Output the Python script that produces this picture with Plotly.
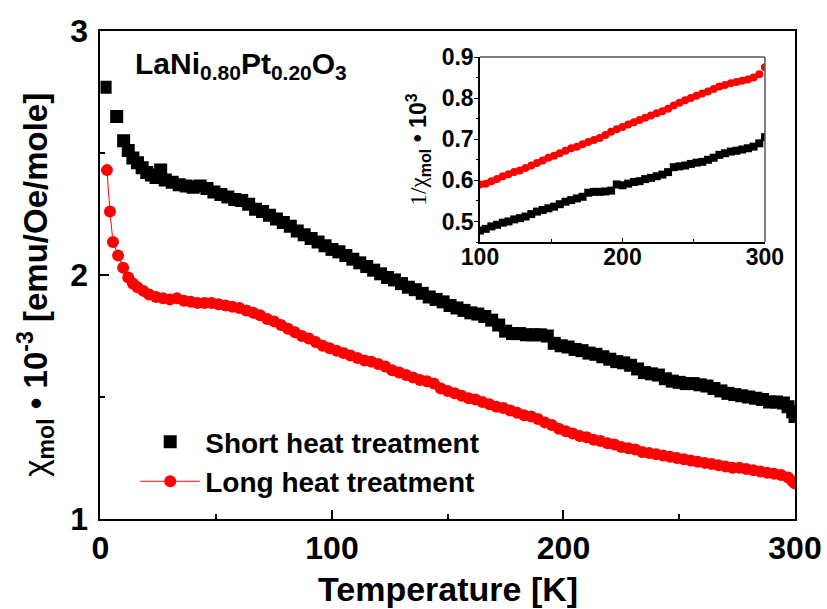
import plotly.graph_objects as go

# ---------------- data ----------------
T_short = [2, 7, 10, 12, 14, 16, 18, 20, 22, 24, 26, 28, 31, 34, 37, 40, 43, 46, 49, 52,
           55, 58, 61, 64, 67, 70, 73, 76, 79, 82, 85, 88, 91, 94, 97, 100, 103, 106, 109, 112,
           115, 118, 121, 124, 127, 130, 133, 136, 139, 142, 145, 148, 151, 154, 157, 160, 163, 166, 169, 172,
           175, 178, 181, 184, 187, 190, 193, 196, 199, 202, 205, 208, 211, 214, 217, 220, 223, 226, 229, 232,
           235, 238, 241, 244, 247, 250, 253, 256, 259, 262, 265, 268, 271, 274, 277, 280, 283, 286, 289, 292,
           295, 297, 299, 300]
chi_short = [2.77, 2.65, 2.55, 2.51, 2.48, 2.46, 2.44, 2.42, 2.41, 2.40, 2.43, 2.39, 2.38, 2.37, 2.365, 2.36, 2.365, 2.355, 2.34, 2.33,
             2.32, 2.31, 2.305, 2.29, 2.27, 2.26, 2.245, 2.23, 2.215, 2.20, 2.18, 2.165, 2.15, 2.135, 2.12, 2.105, 2.095, 2.08, 2.065, 2.05,
             2.035, 2.02, 2.005, 1.99, 1.98, 1.965, 1.95, 1.94, 1.925, 1.91, 1.90, 1.89, 1.875, 1.865, 1.855, 1.845, 1.84, 1.83, 1.815, 1.795,
             1.77, 1.76, 1.76, 1.755, 1.755, 1.755, 1.75, 1.72, 1.71, 1.705, 1.695, 1.69, 1.68, 1.675, 1.665, 1.655, 1.645, 1.64, 1.63, 1.615,
             1.60, 1.595, 1.59, 1.575, 1.565, 1.56, 1.555, 1.555, 1.55, 1.545, 1.535, 1.525, 1.515, 1.51, 1.505, 1.50, 1.495, 1.49, 1.48, 1.48,
             1.475, 1.46, 1.44, 1.42]

T_long = [2.8, 4.1, 5.4, 7.6, 9.8, 12, 14, 16, 18.5, 21, 24, 27, 30, 33, 36, 39, 42, 45, 48, 51,
          54, 57, 60, 63, 66, 69, 72, 75, 78, 81, 84, 87, 90, 93, 96, 99, 102, 105, 108, 111,
          114, 117, 120, 123, 126, 129, 132, 135, 138, 141, 144, 147, 150, 153, 156, 159, 162, 165, 168, 171,
          174, 177, 180, 183, 186, 189, 192, 195, 198, 201, 204, 207, 210, 213, 216, 219, 222, 225, 228, 231,
          234, 237, 240, 243, 246, 249, 252, 255, 258, 261, 264, 267, 270, 273, 276, 279, 282, 285, 288, 291,
          294, 297, 299, 300]
chi_long = [2.43, 2.26, 2.135, 2.08, 2.03, 1.99, 1.965, 1.95, 1.935, 1.92, 1.91, 1.905, 1.90, 1.905, 1.895, 1.89, 1.885, 1.885, 1.885, 1.88,
            1.875, 1.87, 1.865, 1.855, 1.845, 1.835, 1.82, 1.81, 1.795, 1.78, 1.765, 1.75, 1.74, 1.725, 1.71, 1.70, 1.69, 1.68, 1.67, 1.66,
            1.65, 1.645, 1.635, 1.625, 1.61, 1.60, 1.59, 1.58, 1.57, 1.565, 1.555, 1.535, 1.525, 1.515, 1.505, 1.495, 1.49, 1.48, 1.47, 1.46,
            1.455, 1.445, 1.435, 1.425, 1.42, 1.41, 1.395, 1.385, 1.37, 1.36, 1.35, 1.34, 1.335, 1.325, 1.32, 1.31, 1.305, 1.295, 1.29, 1.285,
            1.275, 1.27, 1.265, 1.26, 1.255, 1.25, 1.245, 1.24, 1.235, 1.23, 1.225, 1.22, 1.215, 1.21, 1.21, 1.205, 1.20, 1.195, 1.19, 1.185,
            1.18, 1.17, 1.155, 1.145]

T_inset = [100, 104, 108, 112, 116, 120, 124, 128, 132, 136, 140, 144, 148, 152, 156, 160, 164, 168, 172, 176,
           180, 184, 188, 192, 196, 200, 204, 208, 212, 216, 220, 224, 228, 232, 236, 240, 244, 248, 252, 256,
           260, 264, 268, 272, 276, 280, 284, 288, 292, 296, 300]
inv_short = [0.478, 0.482, 0.488, 0.492, 0.497, 0.500, 0.505, 0.508, 0.512, 0.518, 0.524, 0.528, 0.532, 0.536, 0.542, 0.548, 0.552, 0.556, 0.560, 0.570,
             0.572, 0.572, 0.573, 0.575, 0.590, 0.588, 0.592, 0.596, 0.598, 0.603, 0.606, 0.610, 0.614, 0.620, 0.632, 0.634, 0.636, 0.640, 0.643, 0.645,
             0.650, 0.655, 0.662, 0.666, 0.670, 0.672, 0.675, 0.678, 0.682, 0.690, 0.705]
inv_long = [0.590, 0.592, 0.598, 0.603, 0.610, 0.615, 0.620, 0.624, 0.630, 0.636, 0.642, 0.648, 0.655, 0.660, 0.666, 0.672, 0.678, 0.682, 0.688, 0.693,
            0.698, 0.703, 0.710, 0.718, 0.724, 0.730, 0.736, 0.741, 0.747, 0.752, 0.758, 0.763, 0.768, 0.774, 0.782, 0.789, 0.795, 0.800, 0.806, 0.811,
            0.816, 0.822, 0.828, 0.832, 0.836, 0.839, 0.842, 0.845, 0.850, 0.858, 0.875]

main_xticks = [0, 100, 200, 300]
main_yticks = [1, 2, 3]
inset_xticks = [100, 200, 300]
inset_yticks = [0.5, 0.6, 0.7, 0.8, 0.9]

FONT = "Arial, Liberation Sans, sans-serif"

fig = go.Figure()
fig.add_trace(go.Scatter(x=T_short, y=chi_short, mode="markers", name="Short heat treatment",
                         marker=dict(symbol="square", size=13, color="black")))
fig.add_trace(go.Scatter(x=T_long, y=chi_long, mode="lines+markers", name="Long heat treatment",
                         line=dict(color="red", width=1),
                         marker=dict(symbol="circle", size=12, color="red")))
fig.add_trace(go.Scatter(x=T_inset, y=inv_short, mode="markers", showlegend=False,
                         marker=dict(symbol="square", size=8, color="black"), xaxis="x2", yaxis="y2"))
fig.add_trace(go.Scatter(x=T_inset, y=inv_long, mode="markers", showlegend=False,
                         marker=dict(symbol="circle", size=8, color="red"), xaxis="x2", yaxis="y2"))

tickfont_main = dict(family=FONT, size=32, color="black", weight="bold")
tickfont_inset = dict(family=FONT, size=23, color="black", weight="bold")

fig.update_layout(
    width=827, height=609,
    margin=dict(l=0, r=0, t=0, b=0, autoexpand=False),
    paper_bgcolor="white", plot_bgcolor="white",
    showlegend=True,
    legend=dict(x=0.1635, y=0.315, xanchor="left", yanchor="top",
                font=dict(family=FONT, size=28, color="black", weight="bold"),
                bgcolor="rgba(0,0,0,0)", tracegroupgap=0, itemwidth=60),
    xaxis=dict(domain=[0.1215, 0.9613], range=[0, 300], tickvals=main_xticks, automargin=False,
               ticks="inside", ticklen=9, tickwidth=1.5, tickcolor="black",
               minor=dict(dtick=50, ticks="inside", ticklen=5, tickwidth=1.5, tickcolor="black"),
               showline=True, linecolor="black", linewidth=2, mirror=True,
               showgrid=False, zeroline=False, tickfont=tickfont_main, ticklabelstandoff=0),
    yaxis=dict(domain=[0.1478, 0.949], range=[1, 3], tickvals=main_yticks, automargin=False,
               ticks="inside", ticklen=9, tickwidth=1.5, tickcolor="black",
               minor=dict(dtick=0.5, ticks="inside", ticklen=5, tickwidth=1.5, tickcolor="black"),
               showline=True, linecolor="black", linewidth=2, mirror=True,
               showgrid=False, zeroline=False, tickfont=tickfont_main, ticklabelstandoff=4),
    xaxis2=dict(domain=[0.5804, 0.9250], range=[100, 300], anchor="y2", tickvals=inset_xticks, automargin=False,
                ticks="inside", ticklen=4, tickwidth=1, tickcolor="black",
                minor=dict(dtick=50, ticks="inside", ticklen=3, tickwidth=1, tickcolor="black"),
                showline=True, linecolor="black", linewidth=1.5, mirror=False,
                showgrid=False, zeroline=False, tickfont=tickfont_inset, ticklabelstandoff=-6),
    yaxis2=dict(domain=[0.6026, 0.9064], range=[0.45, 0.9], anchor="x2", tickvals=inset_yticks, automargin=False,
                ticks="outside", ticklen=4, tickwidth=1, tickcolor="black",
                minor=dict(dtick=0.05, ticks="outside", ticklen=2, tickwidth=1, tickcolor="black"),
                showline=True, linecolor="black", linewidth=1.5, mirror=False,
                showgrid=False, zeroline=False, tickfont=tickfont_inset, ticklabelstandoff=-4),
)

# inset top / right frame in grey
fig.add_shape(type="line", xref="x2 domain", yref="y2 domain", x0=0, x1=1, y0=1, y1=1,
              line=dict(color="#555555", width=1.5))
fig.add_shape(type="line", xref="x2 domain", yref="y2 domain", x0=1, x1=1, y0=0, y1=1,
              line=dict(color="#555555", width=1.5))

# titles
fig.add_annotation(xref="paper", yref="paper", x=0.5423, y=0.033, showarrow=False,
                   text="Temperature [K]", xanchor="center", yanchor="middle",
                   font=dict(family=FONT, size=34, color="black", weight="bold"))
fig.add_annotation(xref="paper", yref="paper", x=0.042, y=0.532, showarrow=False, textangle=-90,
                   text="<span style='font-weight:normal'>χ</span><sub>mol</sub> • 10<sup>-3</sup> [emu/Oe/mole]",
                   xanchor="center", yanchor="middle",
                   font=dict(family=FONT, size=33, color="black", weight="bold"))
fig.add_annotation(xref="paper", yref="paper", x=0.505, y=0.754, showarrow=False, textangle=-90,
                   text="<span style='font-weight:normal;font-family:Liberation Serif'>1/χ</span><sub>mol</sub> • 10<sup>3</sup>",
                   xanchor="center", yanchor="middle",
                   font=dict(family=FONT, size=23, color="black", weight="bold"))
fig.add_annotation(xref="paper", yref="paper", x=0.1608, y=0.892, showarrow=False,
                   text="LaNi<sub>0.80</sub>Pt<sub>0.20</sub>O<sub>3</sub>",
                   xanchor="left", yanchor="middle",
                   font=dict(family=FONT, size=30, color="black", weight="bold"))

fig.write_html("out.html")
